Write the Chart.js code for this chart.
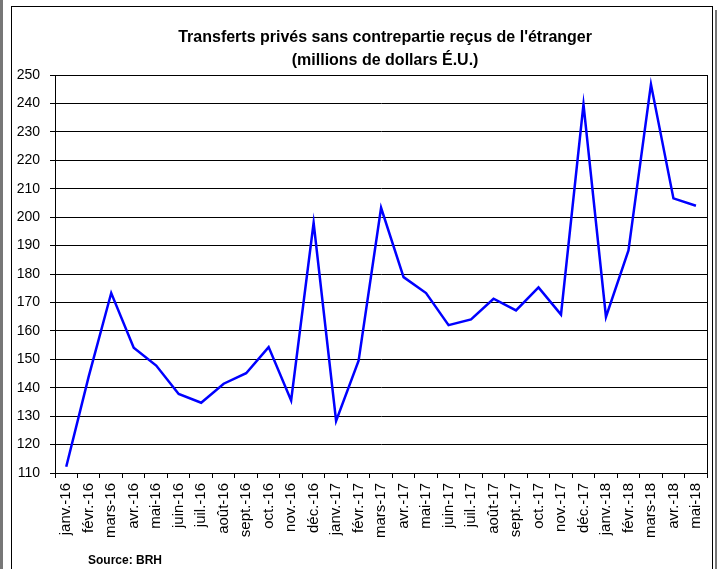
<!DOCTYPE html>
<html>
<head>
<meta charset="utf-8">
<script src="https://cdn.jsdelivr.net/npm/chart.js@4/dist/chart.umd.min.js"></script>
<style>
  body { margin: 0; background: #fff; width: 721px; height: 569px; overflow: hidden; position: relative; }
  #frame { position: absolute; left: 11px; top: 6px; width: 700px; height: 600px; border: 1px solid #000; }
  #myChart { position: absolute; left: 0; top: 0; }
  .strip { position: absolute; background: #777; }
</style>
</head>
<body>
<div class="strip" style="left:0;top:0;width:3px;height:569px"></div>
<div class="strip" style="left:715px;top:10px;width:2px;height:559px"></div>
<div id="frame"><canvas id="myChart" width="707" height="562"></canvas></div>
<script>
var months = ["janv.-16", "févr.-16", "mars-16", "avr.-16", "mai-16", "juin-16", "juil.-16", "août-16",
              "sept.-16", "oct.-16", "nov.-16", "déc.-16", "janv.-17", "févr.-17", "mars-17", "avr.-17",
              "mai-17", "juin-17", "juil.-17", "août-17", "sept.-17", "oct.-17", "nov.-17", "déc.-17",
              "janv.-18", "févr.-18", "mars-18", "avr.-18", "mai-18"];
var transfers = [112.2, 144, 173.3, 154.1, 147.8, 137.8, 134.7, 141.4,
                 145.1, 154.3, 135.5, 198, 128.3, 149.5, 203.3, 178.9,
                 173.3, 162, 164, 171.3, 167.2, 175.3, 165.7, 239.7,
                 164.9, 188.3, 246.7, 206.6, 204];
var titleLines = ["Transferts privés sans contrepartie reçus de l'étranger", "(millions de dollars É.U.)"];
var sourceText = "Source: BRH";
var yMin = 110, yMax = 250, yStep = 10;

var fontName = "'Liberation Sans', Arial, sans-serif";

// title, source and the box round the plot
var extras = {
  id: "extras",
  afterDraw: function(chart) {
    var ctx = chart.ctx;
    var a = chart.chartArea;
    ctx.save();
    ctx.strokeStyle = "#000";
    ctx.lineWidth = 1;
    ctx.strokeRect(Math.round(a.left) + 0.5, Math.round(a.top) + 0.5,
                   Math.round(a.right - a.left), Math.round(a.bottom - a.top));
    ctx.fillStyle = "#000";
    ctx.textAlign = "center";
    ctx.textBaseline = "middle";
    ctx.font = "bold 16px " + fontName;
    var cx = (a.left + a.right) / 2 + 4;
    ctx.fillText(titleLines[0], cx, 31);
    ctx.fillText(titleLines[1], cx, 54);
    ctx.textAlign = "left";
    ctx.font = "bold 12px " + fontName;
    ctx.fillText(sourceText, 76, 554);
    ctx.restore();
  }
};

Chart.defaults.font.family = fontName;
Chart.defaults.color = "#000";

new Chart("myChart", {
  type: "line",
  data: {
    labels: months,
    datasets: [{
      data: transfers,
      borderColor: "#0000ff",
      borderWidth: 2.5,
      pointRadius: 0,
      tension: 0,
      fill: false
    }]
  },
  options: {
    responsive: false,
    animation: false,
    layout: { padding: { left: 0, top: 68, right: 4, bottom: 0 } },
    plugins: {
      legend: { display: false },
      title: { display: false },
      tooltip: { enabled: false }
    },
    scales: {
      x: {
        offset: true,
        afterFit: function(scale) { scale.height = 96; },
        grid: { offset: true, drawOnChartArea: false, drawTicks: true, tickLength: 5, color: "#000" },
        border: { color: "#000", width: 1 },
        ticks: { autoSkip: false, maxRotation: 90, minRotation: 90, padding: 5, font: { size: 15 } }
      },
      y: {
        min: yMin,
        max: yMax,
        afterFit: function(scale) { scale.width = 43; },
        grid: { color: "#000", tickLength: 5 },
        border: { color: "#000", width: 1 },
        ticks: { stepSize: yStep, padding: 10, font: { size: 14 } }
      }
    }
  },
  plugins: [extras]
});
</script>
</body>
</html>
